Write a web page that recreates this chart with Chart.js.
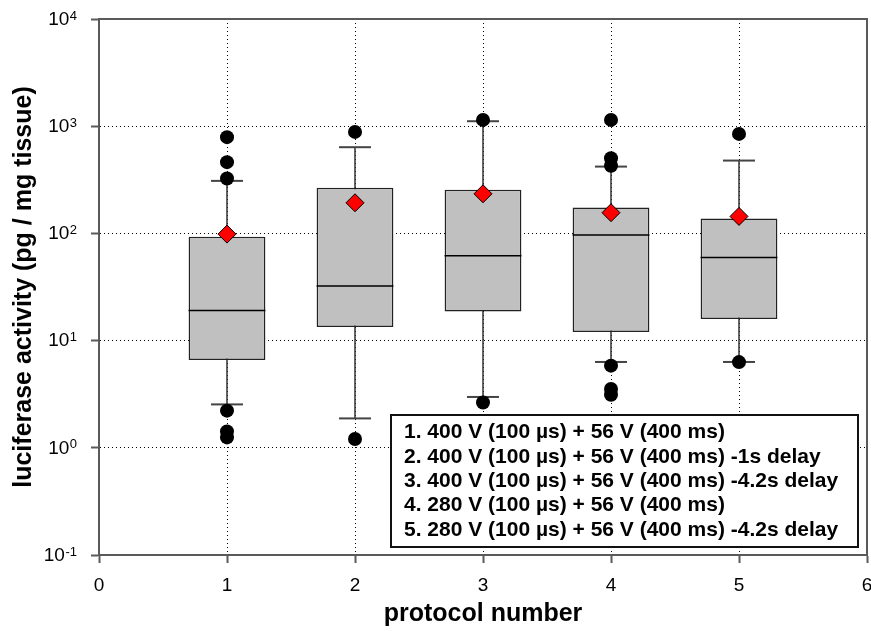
<!DOCTYPE html>
<html>
<head>
<meta charset="utf-8">
<title>luciferase activity by protocol</title>
<script src="https://cdn.jsdelivr.net/npm/chart.js@4.4.1/dist/chart.umd.min.js"></script>
<style>
  html, body { margin: 0; padding: 0; background: #fff; }
  #wrap { width: 871px; height: 631px; }
</style>
</head>
<body>
<div id="wrap"><canvas id="boxChart" width="871" height="631"></canvas></div>
<script>
// values (log scale)
const protocols = [1, 2, 3, 4, 5];
const lowerWhisker = [2.54, 1.88, 2.98, 6.32, 6.32];
const q1 = [6.6, 13.4, 18.7, 12.0, 15.9];
const medians = [19.1, 32.3, 61.8, 96.4, 59.6];
const q3 = [93, 266, 255, 174, 138];
const upperWhisker = [309, 637, 1113, 420, 478];
const means = [98.5, 193, 234, 156, 144];
const outliers = [
    [790, 462, 325, 2.22, 1.42, 1.25],
    [885, 1.21],
    [1145, 2.65],
    [1145, 503, 427, 5.84, 3.54, 3.13],
    [848, 6.3]
];

const xTickLabels = ['0', '1', '2', '3', '4', '5', '6'];
const yTickValues = [0.1, 1, 10, 100, 1000, 10000];
const yTickBase = '10';
const yTickExponents = ['-1', '0', '1', '2', '3', '4'];

const protocolNotes = [
    '1. 400 V (100 µs) + 56 V (400 ms)',
    '2. 400 V (100 µs) + 56 V (400 ms) -1s delay',
    '3. 400 V (100 µs) + 56 V (400 ms) -4.2s delay',
    '4. 280 V (100 µs) + 56 V (400 ms)',
    '5. 280 V (100 µs) + 56 V (400 ms) -4.2s delay'
];

const FONT = "'Liberation Sans', Arial, sans-serif";
const AXIS_GRAY = '#5a5a5a';
const BOX_GRAY = '#c0c0c0';

// pixel width of one protocol step, so marker widths follow the x scale
const unitPx = (chart) => chart.scales.x.getPixelForValue(1) - chart.scales.x.getPixelForValue(0);

const boxData = protocols.map((p, i) => ({ x: p, y: [q1[i], q3[i]] }));
const medianData = protocols.map((p, i) => ({ x: p, y: medians[i] }));
const meanData = protocols.map((p, i) => ({ x: p, y: means[i] }));
const capData = [];
const whiskerData = [];
protocols.forEach((p, i) => {
    capData.push({ x: p, y: lowerWhisker[i] }, { x: p, y: upperWhisker[i] });
    whiskerData.push({ x: p, y: lowerWhisker[i] }, { x: p, y: upperWhisker[i] }, { x: p + 0.5, y: null });
});
const outlierData = [];
protocols.forEach((p, i) => {
    outliers[i].forEach(v => outlierData.push({ x: p, y: v }));
});

// top and right edge of the frame (the scales draw left and bottom)
const framePlugin = {
    id: 'frame',
    beforeDatasetsDraw(chart) {
        const { ctx, chartArea: a } = chart;
        ctx.save();
        ctx.strokeStyle = AXIS_GRAY;
        ctx.lineWidth = 2;
        ctx.beginPath();
        ctx.moveTo(a.left, a.top);
        ctx.lineTo(a.right, a.top);
        ctx.lineTo(a.right, a.bottom);
        ctx.stroke();
        ctx.restore();
    }
};

// y labels as 10 with a raised exponent
const powerLabelsPlugin = {
    id: 'powerLabels',
    afterDraw(chart) {
        const { ctx, scales: { y } } = chart;
        const right = y.right - 8 - 14;
        ctx.save();
        ctx.fillStyle = '#000';
        ctx.textAlign = 'right';
        ctx.textBaseline = 'alphabetic';
        yTickValues.forEach((v, i) => {
            const py = y.getPixelForValue(v);
            ctx.font = `13px ${FONT}`;
            const expW = ctx.measureText(yTickExponents[i]).width;
            ctx.fillText(yTickExponents[i], right, py + 0.5);
            ctx.font = `19px ${FONT}`;
            ctx.fillText(yTickBase, right - expW - 0.5, py + 5.8);
        });
        ctx.restore();
    }
};

// protocol description box in the lower right
const notesPlugin = {
    id: 'notes',
    afterDatasetsDraw(chart) {
        const { ctx, chartArea: a, scales: { x } } = chart;
        const lineH = 24.3;
        const left = Math.round(x.getPixelForValue(2.28));
        const right = a.right - 9;
        const bottom = a.bottom - 8;
        const top = bottom - Math.round(23.3 + lineH * (protocolNotes.length - 1) + 11.5);

        ctx.save();
        ctx.fillStyle = '#fff';
        ctx.fillRect(left, top, right - left, bottom - top);
        ctx.strokeStyle = '#111';
        ctx.lineWidth = 2;
        ctx.strokeRect(left, top, right - left, bottom - top);

        ctx.fillStyle = '#000';
        ctx.font = `bold 21px ${FONT}`;
        ctx.textAlign = 'left';
        ctx.textBaseline = 'alphabetic';
        protocolNotes.forEach((t, i) => {
            ctx.fillText(t, left + 13, top + 23.3 + i * lineH);
        });
        ctx.restore();
    }
};

const ctx = document.getElementById('boxChart').getContext('2d');

new Chart(ctx, {
    type: 'bar',
    data: {
        datasets: [
            {
                type: 'scatter',
                data: meanData,
                pointStyle: 'rectRot',
                radius: 9,
                hoverRadius: 9,
                backgroundColor: '#ff0000',
                borderColor: '#000',
                borderWidth: 1
            },
            {
                type: 'scatter',
                data: outlierData,
                pointStyle: 'circle',
                radius: 7,
                hoverRadius: 7,
                backgroundColor: '#000',
                borderColor: '#000',
                borderWidth: 0
            },
            {
                type: 'scatter',
                data: medianData,
                pointStyle: 'line',
                radius: (c) => unitPx(c.chart) * 0.3,
                hoverRadius: (c) => unitPx(c.chart) * 0.3,
                borderColor: '#000',
                borderWidth: 1.5
            },
            {
                type: 'scatter',
                data: capData,
                pointStyle: 'line',
                radius: (c) => unitPx(c.chart) * 0.125,
                hoverRadius: (c) => unitPx(c.chart) * 0.125,
                borderColor: '#444',
                borderWidth: 2
            },
            {
                type: 'bar',
                data: boxData,
                backgroundColor: BOX_GRAY,
                borderColor: '#222',
                borderWidth: 1.5,
                borderSkipped: false,
                categoryPercentage: 1,
                barPercentage: 0.6
            },
            {
                type: 'line',
                data: whiskerData,
                borderColor: '#333',
                borderWidth: 1.5,
                pointRadius: 0,
                spanGaps: false,
                fill: false
            }
        ]
    },
    options: {
        responsive: false,
        devicePixelRatio: 1,
        animation: false,
        layout: { autoPadding: false, padding: { top: 19, right: 4, left: 0, bottom: 0 } },
        plugins: {
            legend: { display: false },
            tooltip: { enabled: false }
        },
        scales: {
            x: {
                type: 'linear',
                min: 0,
                max: 6,
                offset: false,
                afterFit: (s) => { s.height = 76; s.paddingLeft = 0; s.paddingRight = 0; },
                grid: {
                    offset: false,
                    color: '#000',
                    lineWidth: 1,
                    tickColor: AXIS_GRAY,
                    tickWidth: 2,
                    tickLength: 8
                },
                border: { color: AXIS_GRAY, width: 2, dash: [1, 3] },
                ticks: {
                    stepSize: 1,
                    color: '#000',
                    padding: 11,
                    maxRotation: 0,
                    font: { family: FONT, size: 19 },
                    callback: (v) => xTickLabels[v]
                },
                title: {
                    display: true,
                    text: 'protocol number',
                    color: '#000',
                    padding: { top: 0, bottom: 2 },
                    font: { family: FONT, size: 25, weight: 'bold' }
                }
            },
            y: {
                type: 'logarithmic',
                min: 0.1,
                max: 10000,
                afterFit: (s) => { s.width = 99; s.paddingTop = 0; s.paddingBottom = 0; },
                afterBuildTicks: (s) => { s.ticks = yTickValues.map(v => ({ value: v })); },
                grid: {
                    color: '#000',
                    lineWidth: 1,
                    tickColor: AXIS_GRAY,
                    tickWidth: 2,
                    tickLength: 8
                },
                border: { color: AXIS_GRAY, width: 2, dash: [1, 3] },
                ticks: { display: false },
                title: {
                    display: true,
                    text: 'luciferase activity (pg / mg tissue)',
                    color: '#000',
                    padding: { top: 9, bottom: 0 },
                    font: { family: FONT, size: 25, weight: 'bold' }
                }
            }
        }
    },
    plugins: [framePlugin, notesPlugin, powerLabelsPlugin]
});
</script>
</body>
</html>
